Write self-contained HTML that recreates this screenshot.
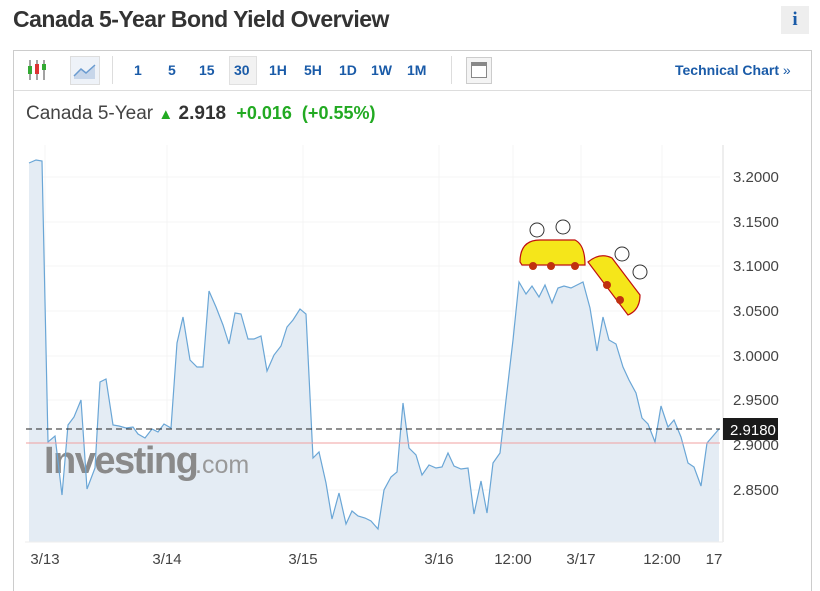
<!DOCTYPE html>
<html><head><meta charset="utf-8"><style>
body{margin:0;width:820px;height:581px;background:#fff;font-family:"Liberation Sans",Arial,sans-serif;overflow:hidden;position:relative}
.a{position:absolute}
.tb{color:#1a5ba8;font-weight:bold;font-size:14px;top:62px}
</style></head><body>
<div class="a" style="left:13px;top:6px;font-size:23px;font-weight:bold;color:#333;letter-spacing:-0.5px">Canada 5-Year Bond Yield Overview</div>
<div class="a" style="left:781px;top:6px;width:28px;height:28px;background:#eee;color:#1a5ba8;font:bold 19px 'Liberation Serif',serif;text-align:center;line-height:28px">i</div>
<div class="a" style="left:13px;top:50px;width:797px;height:540px;border:1px solid #ccc;border-bottom:none"></div>
<div class="a" style="left:14px;top:90px;width:797px;height:1px;background:#ddd"></div>
<svg class="a" style="left:25px;top:58px" width="26" height="24"><line x1="5" y1="2" x2="5" y2="22" stroke="#444"/><rect x="3" y="8" width="4" height="8" fill="#3a3"/><line x1="12" y1="2" x2="12" y2="22" stroke="#444"/><rect x="10" y="6" width="4" height="10" fill="#d33"/><line x1="19" y1="2" x2="19" y2="22" stroke="#444"/><rect x="17" y="6" width="4" height="6" fill="#3a3"/></svg>
<div class="a" style="left:70px;top:56px;width:28px;height:27px;background:#eef2f8;border:1px solid #ddd"></div>
<svg class="a" style="left:73px;top:60px" width="24" height="20"><path d="M1 16 L8 9 L13 13 L22 5 L22 19 L1 19Z" fill="#c7d6ea"/><path d="M1 16 L8 9 L13 13 L22 5" fill="none" stroke="#6a9bd0" stroke-width="1.5"/></svg>
<div class="a" style="left:112px;top:56px;width:1px;height:28px;background:#ddd"></div>
<div class="a tb" style="left:134px">1</div><div class="a tb" style="left:168px">5</div><div class="a tb" style="left:199px">15</div>
<div class="a" style="left:229px;top:56px;width:26px;height:27px;background:#f2f2f2;border:1px solid #e0e0e0"></div>
<div class="a tb" style="left:234px">30</div><div class="a tb" style="left:269px">1H</div><div class="a tb" style="left:304px">5H</div><div class="a tb" style="left:339px">1D</div><div class="a tb" style="left:371px">1W</div><div class="a tb" style="left:407px">1M</div>
<div class="a" style="left:451px;top:56px;width:1px;height:28px;background:#ddd"></div>
<div class="a" style="left:466px;top:57px;width:24px;height:25px;background:#f4f4f4;border:1px solid #ccc"></div>
<div class="a" style="left:471px;top:62px;width:14px;height:14px;border:1px solid #888;background:linear-gradient(#888 0 3px,#fff 3px)"></div>
<div class="a tb" style="left:675px;font-size:14px">Technical Chart <span style="font-weight:normal">»</span></div>
<div class="a" style="left:26px;top:103px;font-size:19px;color:#444">Canada 5-Year <span style="color:#2a2;font-size:15px">&#9650;</span> <b style="color:#333">2.918</b> <b style="color:#2a2;font-size:18px">&nbsp;+0.016&nbsp; (+0.55%)</b></div>
<svg class="a" style="left:0;top:0" width="820" height="581">
<g stroke="#f4f4f4"><line x1="29" y1="177" x2="720" y2="177"/><line x1="29" y1="222" x2="720" y2="222"/><line x1="29" y1="266" x2="720" y2="266"/><line x1="29" y1="311" x2="720" y2="311"/><line x1="29" y1="356" x2="720" y2="356"/><line x1="29" y1="400" x2="720" y2="400"/><line x1="29" y1="490" x2="720" y2="490"/>
<line x1="45" y1="145" x2="45" y2="542"/><line x1="167" y1="145" x2="167" y2="542"/><line x1="303" y1="145" x2="303" y2="542"/><line x1="439" y1="145" x2="439" y2="542"/><line x1="513" y1="145" x2="513" y2="542"/><line x1="581" y1="145" x2="581" y2="542"/><line x1="662" y1="145" x2="662" y2="542"/></g>
<polygon fill="#e4ecf4" points="29,542 29,163 36,160 42,161 48,442 55,436 62,495 68,425 74,417 81,400 87,489 95,468 100,382 106,379 113,425 119,426 126,428 133,427 138,434 145,438 152,429 158,432 164,424 171,428 177,343 183,317 190,360 197,367 203,367 209,291 216,307 223,325 229,344 235,313 241,314 248,339 254,339 261,336 267,371 274,355 281,346 287,327 293,320 300,309 306,314 313,458 319,452 326,483 332,519 339,493 346,524 352,511 358,516 365,518 371,521 378,529 384,490 391,477 397,472 403,403 409,448 416,455 422,475 429,465 436,468 442,467 448,453 454,466 461,469 468,468 474,514 481,481 487,513 493,463 500,453 506,400 513,340 519,282 526,294 532,286 539,297 545,285 552,303 558,288 564,286 571,288 577,285 583,282 590,308 597,351 603,317 609,340 616,344 623,367 629,380 636,393 642,418 648,424 655,442 661,406 668,427 674,420 681,437 688,463 694,467 701,486 707,443 713,436 719,429 719,542"/>
<text x="44" y="473" font-family="Liberation Sans" font-weight="bold" font-size="38" fill="#8a8a8a" letter-spacing="-1.5">Investing</text><text x="195" y="473" font-family="Liberation Sans" font-size="25" fill="#999">.com</text>
<polyline fill="none" stroke="#6aa6d6" stroke-width="1.2" points="29,163 36,160 42,161 48,442 55,436 62,495 68,425 74,417 81,400 87,489 95,468 100,382 106,379 113,425 119,426 126,428 133,427 138,434 145,438 152,429 158,432 164,424 171,428 177,343 183,317 190,360 197,367 203,367 209,291 216,307 223,325 229,344 235,313 241,314 248,339 254,339 261,336 267,371 274,355 281,346 287,327 293,320 300,309 306,314 313,458 319,452 326,483 332,519 339,493 346,524 352,511 358,516 365,518 371,521 378,529 384,490 391,477 397,472 403,403 409,448 416,455 422,475 429,465 436,468 442,467 448,453 454,466 461,469 468,468 474,514 481,481 487,513 493,463 500,453 506,400 513,340 519,282 526,294 532,286 539,297 545,285 552,303 558,288 564,286 571,288 577,285 583,282 590,308 597,351 603,317 609,340 616,344 623,367 629,380 636,393 642,418 648,424 655,442 661,406 668,427 674,420 681,437 688,463 694,467 701,486 707,443 713,436 719,429"/>
<line x1="26" y1="443" x2="720" y2="443" stroke="#f0a0a0"/>
<line x1="26" y1="429" x2="720" y2="429" stroke="#222" stroke-dasharray="6,4"/>
<line x1="723" y1="145" x2="723" y2="542" stroke="#ddd"/>
<line x1="25" y1="542" x2="723" y2="542" stroke="#eee"/>
<g fill="#f5e61a" stroke="#c01010" stroke-width="1.2"><path d="M520 262 Q520 240 540 240 L575 240 Q585 245 585 265 L522 265Z"/><path d="M588 262 Q600 252 612 258 L640 295 Q640 310 628 315Z"/></g>
<g fill="#c03010"><circle cx="533" cy="266" r="4"/><circle cx="551" cy="266" r="4"/><circle cx="575" cy="266" r="4"/><circle cx="607" cy="285" r="4"/><circle cx="620" cy="300" r="4"/></g>
<g fill="#fff" stroke="#333"><circle cx="537" cy="230" r="7"/><circle cx="563" cy="227" r="7"/><circle cx="622" cy="254" r="7"/><circle cx="640" cy="272" r="7"/></g>
<g font-family="Liberation Sans" font-size="15" fill="#444"><text x="733" y="182">3.2000</text><text x="733" y="227">3.1500</text><text x="733" y="271">3.1000</text><text x="733" y="316">3.0500</text><text x="733" y="361">3.0000</text><text x="733" y="405">2.9500</text><text x="733" y="450">2.9000</text><text x="733" y="495">2.8500</text>
<text x="45" y="564" text-anchor="middle">3/13</text><text x="167" y="564" text-anchor="middle">3/14</text><text x="303" y="564" text-anchor="middle">3/15</text><text x="439" y="564" text-anchor="middle">3/16</text><text x="513" y="564" text-anchor="middle">12:00</text><text x="581" y="564" text-anchor="middle">3/17</text><text x="662" y="564" text-anchor="middle">12:00</text><text x="714" y="564" text-anchor="middle">17</text></g>
<rect x="723" y="418" width="55" height="22" fill="#1a1a1a"/><text x="730" y="435" font-family="Liberation Sans" font-size="15" fill="#fff">2.9180</text>
</svg>
</body></html>
